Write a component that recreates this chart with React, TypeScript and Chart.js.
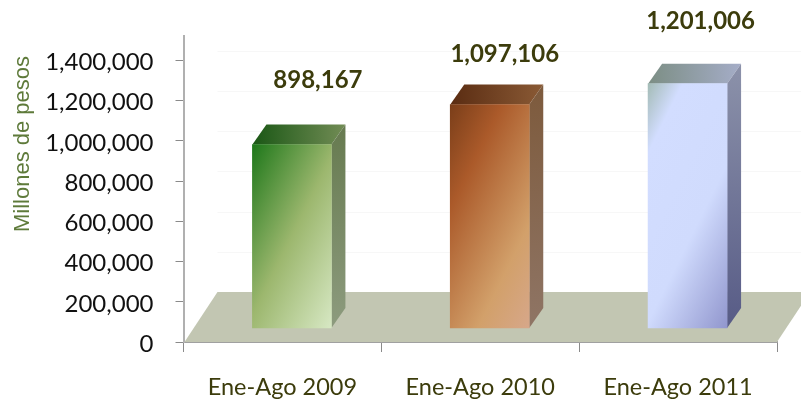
import React, { useEffect, useRef } from "react";
import { Chart, registerables } from "chart.js";

Chart.register(...registerables);

const categories = ["Ene-Ago 2009", "Ene-Ago 2010", "Ene-Ago 2011"];
const values = [898167, 1097106, 1201006];
const valueLabels = ["898,167", "1,097,106", "1,201,006"];
const yTicks = [0, 200000, 400000, 600000, 800000, 1000000, 1200000, 1400000];
const yAxisTitle = "Millones de pesos";
// The bars stand on a 3D floor, above the zero line of the axis.
const floorBase = 70000;
const floorShift = 84000;

type Ramp = [number, string][];
const frontRamps: Ramp[] = [
  [[0, "#157314"], [0.5, "#9cb76e"], [1, "#dbebc9"]],
  [[0, "#6e3715"], [0.3, "#ab5a2a"], [0.7, "#d2a06a"], [1, "#d8a992"]],
  [[0, "#8dab92"], [0.22, "#d2ddff"], [0.58, "#d0dbfd"], [1, "#8488c4"]],
];
const topRamps = [
  ["#1a5715", "#728c55"],
  ["#5a2c12", "#8a5a35"],
  ["#7c8e84", "#a5adc8"],
];
const sideRamps = [
  ["#667a4f", "#8d9b7e"],
  ["#7d5a3c", "#8f7565"],
  ["#8c92aa", "#575b86"],
];
const labelShiftX = [26, 15, 13];
const labelShiftY = [-64, -50, -62];

const DX = 14;
const DY = 20;
const BAR_SHIFT = 9.5;
const BAR_WIDTH = 79;

const linear = (ctx: CanvasRenderingContext2D, x0: number, y0: number, x1: number, y1: number, stops: Ramp) => {
  const g = ctx.createLinearGradient(x0, y0, x1, y1);
  stops.forEach(([o, c]) => g.addColorStop(o, c));
  return g;
};

const poly = (ctx: CanvasRenderingContext2D, pts: number[][], fill: any) => {
  ctx.beginPath();
  pts.forEach(([x, y], i) => (i ? ctx.lineTo(x, y) : ctx.moveTo(x, y)));
  ctx.closePath();
  ctx.fillStyle = fill;
  ctx.fill();
};

const scene = {
  id: "scene",
  beforeDatasetsDraw(chart: any) {
    const { ctx, chartArea: a, scales } = chart;
    ctx.save();
    // faint back wall grid
    ctx.strokeStyle = "#f7f7f7";
    ctx.lineWidth = 1;
    scales.y.ticks.forEach((t: any) => {
      const y = Math.round(scales.y.getPixelForValue(t.value)) - 49.5;
      if (y < a.top) return;
      ctx.beginPath();
      ctx.moveTo(a.left + 34, y);
      ctx.lineTo(chart.width, y);
      ctx.stroke();
    });
    // floor
    poly(
      ctx,
      [
        [a.left + 1, a.bottom],
        [a.left + 34, a.bottom - 50],
        [a.right + 33, a.bottom - 50],
        [a.right, a.bottom],
      ],
      "#c2c6b2"
    );
    ctx.restore();
    ctx.save();
    ctx.translate(BAR_SHIFT, 0);
    chart.getDatasetMeta(0).data.forEach((bar: any, i: number) => {
      const l = bar.x - bar.width / 2;
      const r = bar.x + bar.width / 2;
      const t = bar.y;
      const b = bar.base;
      poly(ctx, [[l, t], [l + DX, t - DY], [r + DX, t - DY], [r, t]],
        linear(ctx, l, 0, r + DX, 0, [[0, topRamps[i][0]], [1, topRamps[i][1]]]));
      poly(ctx, [[r, t], [r + DX, t - DY], [r + DX, b - DY], [r, b]],
        linear(ctx, 0, t - DY, 0, b, [[0, sideRamps[i][0]], [1, sideRamps[i][1]]]));
    });
  },
  afterDatasetsDraw(chart: any) {
    const { ctx } = chart;
    ctx.restore();
    ctx.save();
    ctx.textAlign = "center";
    ctx.textBaseline = "middle";
    ctx.fillStyle = "#3c3c0c";
    ctx.font = "bold 24px Lato";
    chart.getDatasetMeta(0).data.forEach((bar: any, i: number) => {
      ctx.fillText(valueLabels[i], bar.x + BAR_SHIFT + labelShiftX[i], bar.y + labelShiftY[i]);
    });
    ctx.restore();
    ctx.save();
    ctx.translate(23, 144);
    ctx.rotate(-Math.PI / 2);
    ctx.textAlign = "center";
    ctx.textBaseline = "middle";
    ctx.fillStyle = "#5e7a3a";
    ctx.font = "22px 'Liberation Sans'";
    ctx.fillText(yAxisTitle, 0, 0);
    ctx.restore();
  },
};

export default function App() {
  const ref = useRef<HTMLCanvasElement>(null);
  useEffect(() => {
    const chart = new Chart(ref.current!, {
      type: "bar",
      plugins: [scene],
      data: {
        labels: categories,
        datasets: [
          {
            data: values.map((v) => [floorBase, v + floorShift]) as any,
            borderWidth: 0,
            borderSkipped: false,
            barThickness: BAR_WIDTH,
            backgroundColor: (c: any) => {
              if (!c.raw) return "#888888";
              const { x: xs, y: ys } = c.chart.scales;
              if (!xs || !ys) return "#888888";
              const x = xs.getPixelForValue(c.dataIndex);
              const top = ys.getPixelForValue(c.raw[1]);
              const base = ys.getPixelForValue(c.raw[0]);
              if (![x, top, base].every(Number.isFinite)) return "#888888";
              const h = base - top;
              const cy = top + h / 2;
              const vx = 60;
              const vy = 30;
              const k = Math.hypot(BAR_WIDTH / 2, h / 2) * 0.82;
              const n = Math.hypot(vx, vy);
              return linear(
                c.chart.ctx,
                x - (vx / n) * k,
                cy - (vy / n) * k,
                x + (vx / n) * k,
                cy + (vy / n) * k,
                frontRamps[c.dataIndex]
              );
            },
          },
        ],
      },
      options: {
        responsive: false,
        animation: false,
        layout: { padding: { left: 0, top: 36, right: 24, bottom: 0 } },
        plugins: { legend: { display: false }, tooltip: { enabled: false } },
        scales: {
          x: {
            afterFit: (s: any) => {
              s.height = 58;
            },
            border: { color: "#a0a0a0", width: 2 },
            grid: { drawOnChartArea: false, tickLength: 10, color: "#8a8a8a" },
            ticks: {
              color: "#3c3c0c",
              font: { family: "Lato", size: 23.5 },
              padding: 21,
              maxRotation: 0,
            },
          },
          y: {
            min: 0,
            max: 1520000,
            afterFit: (s: any) => {
              s.width = 183.5;
            },
            afterBuildTicks: (s: any) => {
              s.ticks = yTicks.map((value) => ({ value }));
            },
            border: { color: "#b0b0b0", width: 2 },
            grid: { drawOnChartArea: false, tickLength: 8, color: "#8a8a8a" },
            ticks: {
              color: "#111111",
              font: { family: "Lato", size: 24 },
              padding: 22,
              labelOffset: 2,
              callback: (v: any) => Number(v).toLocaleString("en-US"),
            },
          },
        },
      },
    });
    return () => chart.destroy();
  }, []);
  return (
    <canvas
      ref={ref}
      width={801}
      height={400}
      style={{ position: "absolute", left: 0, top: 0, width: 801, height: 400 }}
    />
  );
}
